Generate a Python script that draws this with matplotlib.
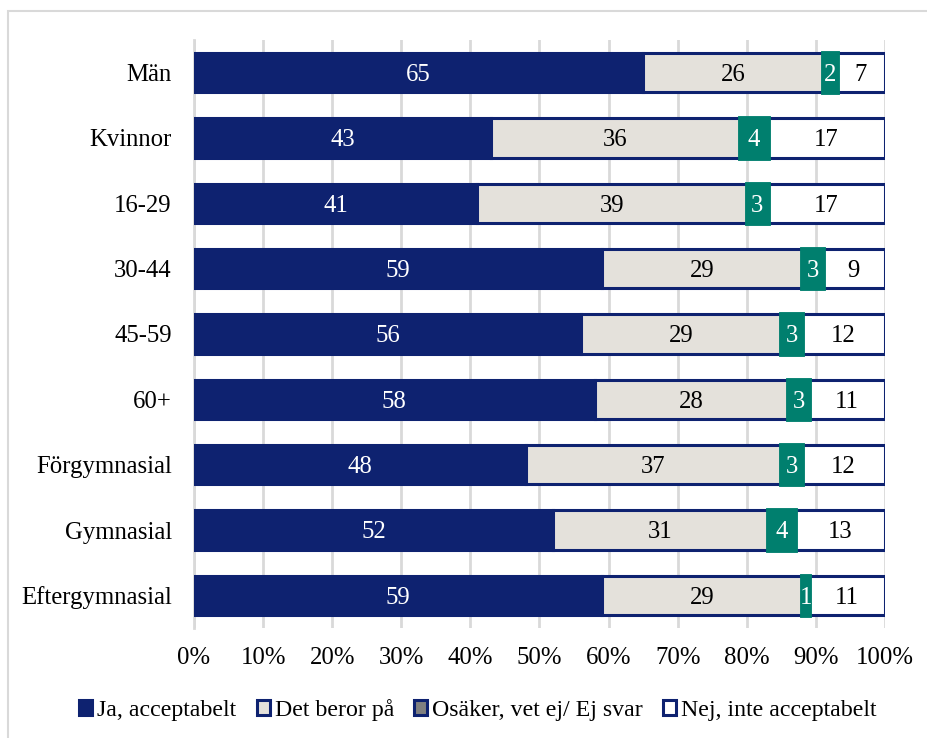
import matplotlib
matplotlib.use("Agg")
import matplotlib.pyplot as plt
from matplotlib.patches import Rectangle, Patch
import numpy as np

categories = ["Män", "Kvinnor", "16-29", "30-44", "45-59", "60+",
              "Förgymnasial", "Gymnasial", "Eftergymnasial"]
ja = [65, 43, 41, 59, 56, 58, 48, 52, 59]
beror = [26, 36, 39, 29, 29, 28, 37, 31, 29]
osaker = [2, 4, 3, 3, 3, 3, 3, 4, 1]
nej = [7, 17, 17, 9, 12, 11, 12, 13, 11]
series_names = ["Ja, acceptabelt", "Det beror på", "Osäker, vet ej/ Ej svar", "Nej, inte acceptabelt"]
xticks = [0, 10, 20, 30, 40, 50, 60, 70, 80, 90, 100]

NAVY = "#0E2270"
LIGHT = "#E4E1DB"
TEAL = "#007F6E"
GRID = "#D9D9D9"

plt.rcParams['font.family'] = ['Liberation Serif', 'DejaVu Serif']
FS = 17.8
LFS = 17.2

fig = plt.figure(figsize=(9.28, 7.38), dpi=100)
fig.patches.append(Rectangle((8/928, -0.1), 1.2, (738-11)/738 + 0.1, transform=fig.transFigure,
                             facecolor='white', edgecolor=GRID, linewidth=1.5, zorder=-10))
ax = fig.add_axes([194/928, 1-628/738, (885-194)/928, (628-40)/738])

y = np.arange(len(categories))
h = 0.6
data = [ja, beror, osaker, nej]
fills = [NAVY, LIGHT, TEAL, "white"]
edges = [NAVY, NAVY, TEAL, NAVY]
lws = [2.2, 2.2, 3.5, 2.2]
zs = [3, 3, 3.5, 3]
txtc = ["white", "black", "white", "black"]
left = np.zeros(len(categories))
for vals, fc, ec, lw, z, tc in zip(data, fills, edges, lws, zs, txtc):
    vals = np.array(vals, dtype=float)
    ax.barh(y, vals, left=left, height=h, color=fc, edgecolor=ec, linewidth=lw, zorder=z)
    for yi, l, v in zip(y, left, vals):
        ax.text(l + v/2, yi, f"{int(v)}", ha='center', va='center_baseline', color=tc,
                fontsize=FS, zorder=5)
    left += vals

ax.set_ylim(len(categories)-0.5, -0.5)
ax.set_xlim(0, 100)
ax.set_yticks(y)
ax.set_yticklabels(categories, fontsize=FS)
ax.set_xticks(xticks)
ax.set_xticklabels([f"{t}%" for t in xticks], fontsize=FS)
ax.tick_params(length=0)
ax.tick_params(axis='x', pad=14)
ax.tick_params(axis='y', pad=16)
for lbl in ax.get_yticklabels():
    lbl.set_verticalalignment('center_baseline')
ax.xaxis.grid(True, color=GRID, linewidth=2, zorder=0)
ax.set_axisbelow(True)
for s in ['top', 'right', 'bottom']:
    ax.spines[s].set_visible(False)
ax.spines['left'].set_color(GRID)
ax.spines['left'].set_linewidth(2)

handles = [Patch(facecolor=NAVY, edgecolor=NAVY, linewidth=2.2),
           Patch(facecolor=LIGHT, edgecolor=NAVY, linewidth=2.2),
           Patch(facecolor="#808080", edgecolor=NAVY, linewidth=2.2),
           Patch(facecolor="white", edgecolor=NAVY, linewidth=2.2)]
fig.legend(handles, series_names, loc='center', bbox_to_anchor=(478/928, 1-710/738),
           ncol=4, frameon=False, fontsize=LFS, handlelength=0.55, handleheight=0.55,
           handletextpad=0.2, columnspacing=0.85)

fig.savefig("out.png", dpi=100)
